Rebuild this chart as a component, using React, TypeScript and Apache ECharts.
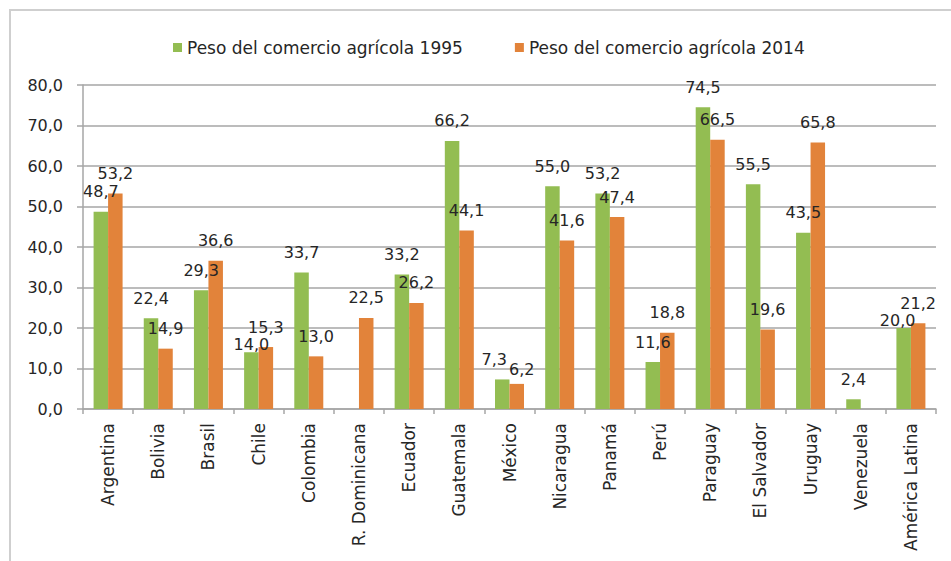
import React, { useEffect, useRef } from "react";
import * as echarts from "echarts";

const categories = [
  "Argentina", "Bolivia", "Brasil", "Chile", "Colombia", "R. Dominicana", "Ecuador",
  "Guatemala", "México", "Nicaragua", "Panamá", "Perú", "Paraguay", "El Salvador",
  "Uruguay", "Venezuela", "América Latina",
];
const values1995: (number | null)[] = [
  48.7, 22.4, 29.3, 14.0, 33.7, null, 33.2, 66.2, 7.3, 55.0, 53.2, 11.6, 74.5, 55.5, 43.5, 2.4, 20.0,
];
const values2014: (number | null)[] = [
  53.2, 14.9, 36.6, 15.3, 13.0, 22.5, 26.2, 44.1, 6.2, 41.6, 47.4, 18.8, 66.5, 19.6, 65.8, null, 21.2,
];
const seriesNames = ["Peso del comercio agrícola 1995", "Peso del comercio agrícola 2014"];

// label nudges (style only) keyed by category index
const offsets1995: Record<number, [number, number]> = { 3: [0, 12], 8: [-8, 0], 16: [-6, 12] };
const offsets2014: Record<number, [number, number]> = { 8: [5, 6] };

const fmt = (v: number) => v.toFixed(1).replace(".", ",");
const txtFont = "'DejaVu Sans', sans-serif";
const txtColor = "#262626";

function buildData(vals: (number | null)[], offs: Record<number, [number, number]>) {
  return vals.map((v, i) =>
    offs[i] && v != null ? { value: v, label: { offset: offs[i] } } : v
  );
}

export default function App() {
  const ref = useRef<HTMLDivElement>(null);
  useEffect(() => {
    document.body.style.margin = "0";
    const chart = echarts.init(ref.current!, null, { renderer: "svg" });
    const labelCfg = {
      show: true,
      position: "top" as const,
      distance: 12,
      fontFamily: txtFont,
      fontSize: 16,
      color: txtColor,
      formatter: (p: any) => fmt(p.value),
    };
    chart.setOption({
      animation: false,
      backgroundColor: "#fff",
      graphic: [
        {
          type: "rect",
          shape: { x: 10, y: 10, width: 980, height: 600 },
          style: { fill: "none", stroke: "#cfcfcf", lineWidth: 2 },
          silent: true,
        },
      ],
      legend: {
        left: 168,
        top: 34,
        itemWidth: 9,
        itemHeight: 9,
        itemGap: 52,
        icon: "rect",
        textStyle: {
          fontFamily: txtFont,
          fontSize: 17,
          color: txtColor,
        },
        data: seriesNames,
      },
      grid: { left: 83, right: 15, top: 85, bottom: 152, containLabel: false },
      xAxis: {
        type: "category",
        data: categories,
        axisLine: { lineStyle: { color: "#a6a6a6", width: 1.5 } },
        axisTick: { show: true, length: 5, lineStyle: { color: "#a6a6a6", width: 1.5 } },
        axisLabel: {
          interval: 0,
          rotate: 90,
          margin: 14,
          fontFamily: txtFont,
          fontSize: 17,
          color: txtColor,
        },
      },
      yAxis: {
        type: "value",
        min: 0,
        max: 80,
        interval: 10,
        axisLine: { show: true, lineStyle: { color: "#a6a6a6", width: 1.5 } },
        axisTick: { show: true, length: 6, lineStyle: { color: "#a6a6a6", width: 1.5 } },
        splitLine: { show: true, lineStyle: { color: "#a6a6a6", width: 1.5 } },
        axisLabel: {
          margin: 20,
          fontFamily: txtFont,
          fontSize: 16,
          color: txtColor,
          formatter: (v: number) => fmt(v),
        },
      },
      series: [
        {
          name: seriesNames[0],
          type: "bar",
          data: buildData(values1995, offsets1995),
          itemStyle: { color: "#93bd52" },
          barWidth: 14.5,
          barGap: "0%",
          label: labelCfg,
        },
        {
          name: seriesNames[1],
          type: "bar",
          data: buildData(values2014, offsets2014),
          itemStyle: { color: "#e2833a" },
          barWidth: 14.5,
          barGap: "0%",
          label: labelCfg,
        },
      ],
    });
    return () => chart.dispose();
  }, []);
  return <div ref={ref} style={{ width: 951, height: 561 }} />;
}
